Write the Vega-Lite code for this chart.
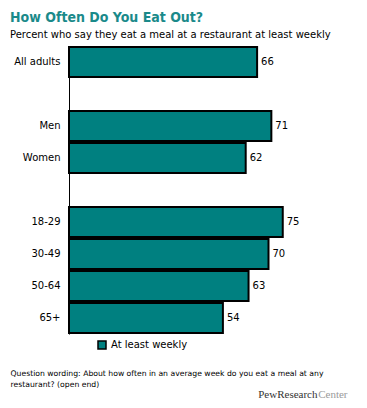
{
  "$schema": "https://vega.github.io/schema/vega-lite/v6.json",
  "width": 285,
  "height": 288,
  "autosize": "none",
  "padding": {"left": 69, "top": 46, "right": 13, "bottom": 74},
  "background": "white",
  "config": {"view": {"stroke": null}, "font": "DejaVu Sans"},
  "title": {
    "text": "How Often Do You Eat Out?",
    "subtitle": "Percent who say they eat a meal at a restaurant at least weekly",
    "anchor": "start",
    "frame": "group",
    "dx": -59,
    "offset": 6,
    "font": "DejaVu Sans Condensed",
    "fontSize": 14,
    "fontWeight": "bold",
    "color": "#1a8a8a",
    "subtitleFont": "DejaVu Sans",
    "subtitleFontSize": 10,
    "subtitleColor": "black",
    "subtitlePadding": 5
  },
  "data": {
    "values": [
      {"group": "All adults", "value": 66, "series": "At least weekly"},
      {"group": "Men", "value": 71, "series": "At least weekly"},
      {"group": "Women", "value": 62, "series": "At least weekly"},
      {"group": "18-29", "value": 75, "series": "At least weekly"},
      {"group": "30-49", "value": 70, "series": "At least weekly"},
      {"group": "50-64", "value": 63, "series": "At least weekly"},
      {"group": "65+", "value": 54, "series": "At least weekly"}
    ]
  },
  "layer": [
    {
      "mark": {"type": "bar", "stroke": "black", "strokeWidth": 2},
      "encoding": {
        "y": {
          "field": "group",
          "type": "nominal",
          "sort": null,
          "scale": {
            "domain": ["All adults", "gap1", "Men", "Women", "gap2", "18-29", "30-49", "50-64", "65+"],
            "paddingInner": 0.0625,
            "paddingOuter": 0.03
          },
          "axis": {
            "title": null,
            "ticks": false,
            "domainColor": "black",
            "domainWidth": 1,
            "labelPadding": 9,
            "labelFontSize": 10,
            "labelColor": "black",
            "labelExpr": "indexof(datum.value, 'gap') == 0 ? '' : datum.value"
          }
        },
        "x": {
          "field": "value",
          "type": "quantitative",
          "scale": {"domain": [0, 100]},
          "axis": {
            "orient": "bottom",
            "domain": false,
            "ticks": false,
            "labels": false,
            "grid": false,
            "title": ["Question wording: About how often in an average week do you eat a meal at any", "restaurant? (open end)"],
            "titleFont": "DejaVu Sans",
            "titleFontSize": 7.7,
            "titleFontWeight": "normal",
            "titleColor": "black",
            "titleAlign": "left",
            "titleAnchor": "start",
            "titleBaseline": "alphabetic",
            "titleX": -59,
            "titleY": 41,
            "titleLineHeight": 11
          }
        },
        "fill": {
          "field": "series",
          "type": "nominal",
          "scale": {"range": ["#008080"]},
          "legend": {
            "title": null,
            "orient": "none",
            "legendX": 28,
            "legendY": 294,
            "symbolType": "square",
            "symbolSize": 64,
            "symbolStrokeColor": "black",
            "symbolStrokeWidth": 1.5,
            "labelFontSize": 10,
            "labelColor": "black",
            "labelOffset": 4
          }
        }
      }
    },
    {
      "mark": {"type": "text", "align": "left", "baseline": "middle", "dx": 4, "fontSize": 10, "color": "black"},
      "encoding": {
        "text": {"field": "value", "type": "quantitative"},
        "y": {
          "field": "group",
          "type": "nominal",
          "sort": null,
          "axis": {
            "orient": "right",
            "domain": false,
            "ticks": false,
            "labels": false,
            "grid": false,
            "title": "Center",
            "titleAngle": 0,
            "titleFont": "Liberation Serif",
            "titleFontSize": 11,
            "titleFontWeight": "normal",
            "titleColor": "#9a9a9a",
            "titleAlign": "right",
            "titleBaseline": "alphabetic",
            "titleX": -7,
            "titleY": 351
          }
        },
        "x": {
          "field": "value",
          "type": "quantitative",
          "scale": {"domain": [0, 100]},
          "axis": {
            "orient": "top",
            "domain": false,
            "ticks": false,
            "labels": false,
            "grid": false,
            "title": "PewResearch",
            "titleFont": "Liberation Serif",
            "titleFontSize": 11,
            "titleFontWeight": "normal",
            "titleColor": "#333333",
            "titleAlign": "right",
            "titleAnchor": "end",
            "titleBaseline": "alphabetic",
            "titleX": 248,
            "titleY": 351
          }
        }
      }
    }
  ],
  "resolve": {"axis": {"x": "independent", "y": "independent"}}
}
